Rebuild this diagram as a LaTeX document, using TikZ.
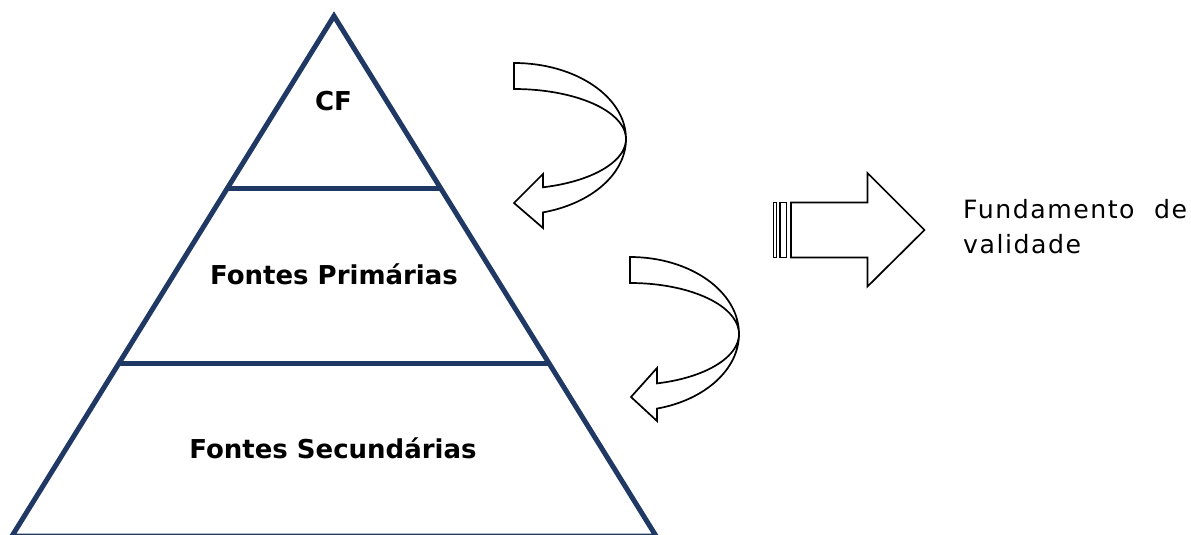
\documentclass[tikz,border=0pt]{standalone}
\usepackage{fontspec}
\setmainfont{DejaVu Sans}
\newfontfamily\sidefont[LetterSpace=6]{DejaVu Sans}
\definecolor{pyrblue}{HTML}{1F3864}
\begin{document}
\begin{tikzpicture}[x=1pt,y=-1pt,
  pyr/.style={draw=pyrblue,line width=5pt,line join=miter},
  level/.style={font=\fontsize{26}{31}\selectfont\bfseries,inner sep=0pt,anchor=base},
  blockarrow/.style={draw=black,fill=white,line width=1.7pt,line join=miter},
  stripe/.style={draw=black,fill=white,line width=1.1pt}]
\useasboundingbox (0,0) rectangle (1191,535);
% pyramid
\coordinate (apex) at (334,16);
\coordinate (bl) at (12,536);
\coordinate (br) at (656,536);
\draw[pyr] (bl) -- (apex) -- (br) -- cycle;
\draw[pyr] (227,188) -- (441,188);
\draw[pyr] (118,363) -- (549,363);
% labels
\node[level] (cf) at (333.5,110.5) {CF};
\node[level] (prim) at (334,284) {Fontes Primárias};
\node[level] (sec) at (333,458) {Fontes Secundárias};
% curved arrow 1
\draw[blockarrow] (514,63) arc[start angle=-90,end angle=75,x radius=112,y radius=76]
  -- (543,228) -- (514,203) -- (543,174) -- (542.99,187.3)
  arc[start angle=75,end angle=-90,x radius=112,y radius=50] -- cycle;
% curved arrow 2
\draw[blockarrow] (630,257) arc[start angle=-90,end angle=75.66,x radius=109,y radius=77]
  -- (657,421) -- (631,397) -- (657,368) -- (657,383.4)
  arc[start angle=75.66,end angle=-90,x radius=109,y radius=51] -- cycle;
% striped arrow
\draw[stripe] (773.3,202.5) rectangle (776.3,257.5);
\draw[stripe] (780,202.5) rectangle (786.6,257.5);
\draw[blockarrow] (791,202.5) -- (867.5,202.5) -- (867.5,173) -- (924.5,230)
  -- (867.5,286.5) -- (867.5,257.5) -- (791,257.5) -- cycle;
% side text
\node[inner sep=0pt,anchor=base west,text width=224pt,align=justify,
  font=\sidefont\fontsize{25.2}{35}\selectfont] (fund) at (963,218)
  {\hyphenpenalty=10000 Fundamento de validade};
\end{tikzpicture}
\end{document}
